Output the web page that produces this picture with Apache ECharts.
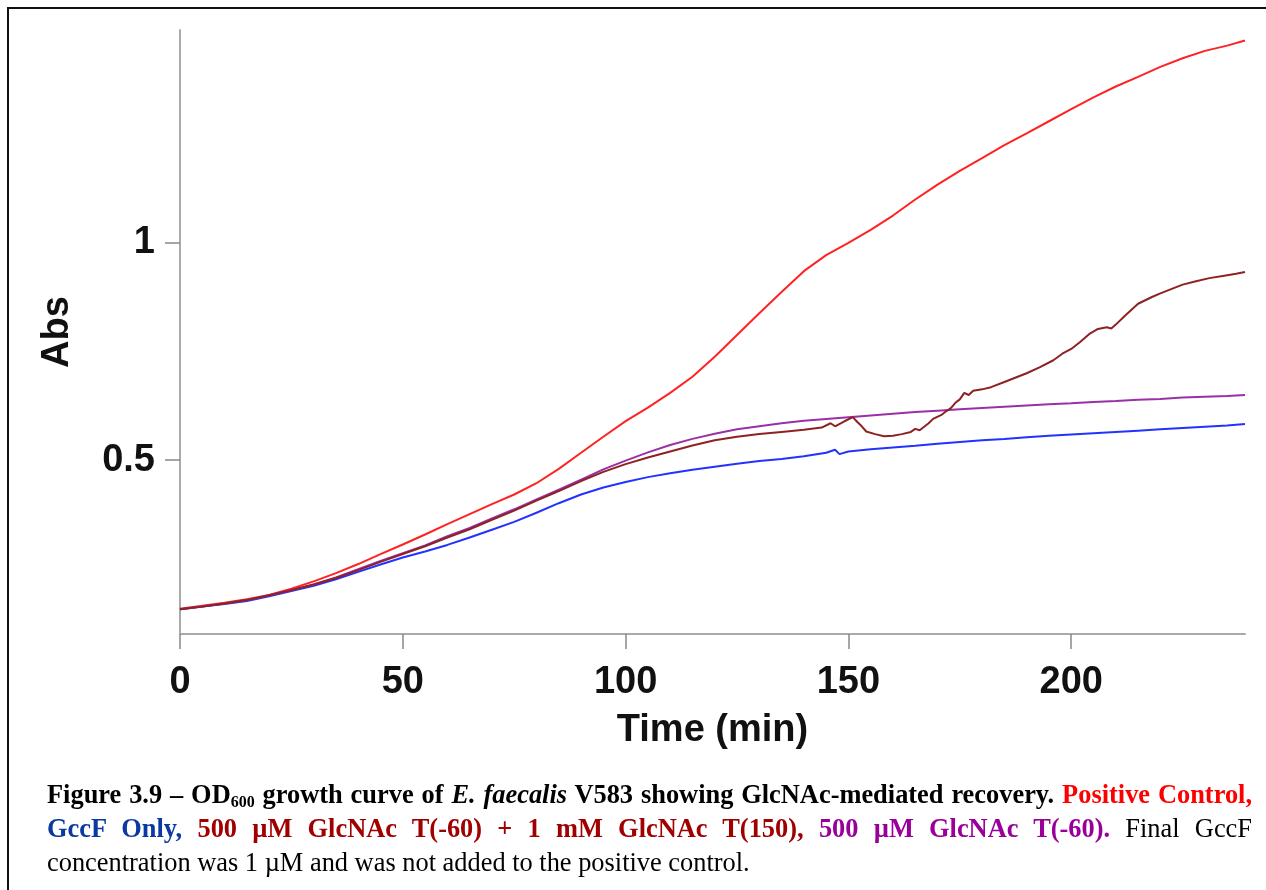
<!DOCTYPE html>
<html>
<head>
<meta charset="utf-8">
<title>E. faecalis V583 growth curve</title>
<script src="https://cdn.jsdelivr.net/npm/echarts@6/dist/echarts.min.js"></script>
<style>
  html, body { margin: 0; padding: 0; background: #fff; }
  #wrap { position: relative; width: 1266px; height: 890px; overflow: hidden; }
  #frame { position: absolute; left: 7px; top: 7px; width: 1400px; height: 1000px;
           border: 2px solid #111; box-sizing: border-box; pointer-events: none; }
  #chart { position: absolute; left: 0; top: 0; width: 1266px; height: 890px; }
  .cap { position: absolute; left: 47px; width: 1205px; font-family: "Liberation Serif", "Times New Roman", serif;
         font-size: 26.4px; line-height: 35px; color: #000; white-space: nowrap; }
  .just { text-align: justify; text-align-last: justify; white-space: normal; }
  .b { font-weight: bold; }
  .red { color: #ff0000; }
  .blue { color: #0a3aa0; }
  .brown { color: #a00000; }
  .purple { color: #990099; }
  sub { font-size: 16px; vertical-align: -4px; line-height: 0; }
</style>
</head>
<body>
<div id="wrap">
  <div id="chart"></div>
  <div id="frame"></div>
  <div class="cap just b" style="top:777px;">Figure 3.9 – OD<sub>600</sub> growth curve of <i>E. faecalis</i> V583 showing GlcNAc-mediated recovery. <span class="red">Positive Control,</span></div>
  <div class="cap just" style="top:811px;"><span class="b blue">GccF Only,</span> <span class="b brown">500 µM GlcNAc T(-60) + 1 mM GlcNAc T(150),</span> <span class="b purple">500 µM GlcNAc T(-60).</span> Final GccF</div>
  <div class="cap" style="top:845px;">concentration was 1 µM and was not added to the positive control.</div>
</div>
<script>
// Absorbance readings, [time (min), Abs]
const positiveControl = [
  [0,0.158],[5,0.165],[10,0.172],[15,0.180],[20,0.190],[25,0.204],[30,0.221],[35,0.240],
  [40,0.261],[45,0.284],[50,0.306],[55,0.329],[60,0.353],[65,0.376],[70,0.399],[75,0.421],
  [80,0.447],[85,0.480],[90,0.517],[95,0.554],[100,0.590],[105,0.621],[110,0.655],[115,0.692],
  [120,0.738],[125,0.788],[130,0.838],[135,0.887],[140,0.935],[145,0.972],[150,1.000],[155,1.030],
  [160,1.063],[165,1.100],[170,1.134],[175,1.166],[180,1.195],[185,1.225],[190,1.252],[195,1.280],
  [200,1.308],[205,1.335],[210,1.360],[215,1.382],[220,1.405],[225,1.425],[230,1.442],[235,1.454],
  [239,1.466]
];
const gccfOnly = [
  [0,0.157],[5,0.163],[10,0.169],[15,0.176],[20,0.187],[25,0.199],[30,0.211],[35,0.226],
  [40,0.243],[45,0.260],[50,0.276],[55,0.290],[60,0.305],[65,0.322],[70,0.340],[75,0.358],
  [80,0.379],[85,0.401],[90,0.421],[95,0.437],[100,0.450],[105,0.461],[110,0.470],[115,0.478],
  [120,0.485],[125,0.492],[130,0.498],[135,0.503],[140,0.509],[145,0.517],[147,0.524],[148,0.514],
  [150,0.520],[155,0.525],[160,0.529],[165,0.533],[170,0.538],[175,0.542],[180,0.546],[185,0.549],
  [190,0.553],[195,0.556],[200,0.559],[205,0.562],[210,0.565],[215,0.568],[220,0.571],[225,0.574],
  [230,0.577],[235,0.580],[239,0.583]
];
const glcnacTwoDoses = [
  [0,0.157],[5,0.163],[10,0.170],[15,0.178],[20,0.189],[25,0.201],[30,0.214],[35,0.229],
  [40,0.247],[45,0.266],[50,0.284],[55,0.302],[60,0.322],[65,0.341],[70,0.363],[75,0.384],
  [80,0.407],[85,0.429],[90,0.452],[95,0.473],[100,0.491],[105,0.506],[110,0.520],[115,0.534],
  [120,0.546],[125,0.554],[130,0.560],[135,0.565],[140,0.570],[144,0.575],[146,0.585],[147,0.578],
  [149,0.589],[151,0.599],[152,0.588],[153,0.578],[154,0.566],[156,0.560],[158,0.555],[160,0.556],
  [162,0.560],[164,0.565],[165,0.572],[166,0.569],[168,0.585],[169,0.595],[171,0.605],[172,0.613],
  [173,0.620],[174,0.632],[175,0.640],[176,0.655],[177,0.650],[178,0.660],[180,0.663],[182,0.668],
  [185,0.680],[188,0.692],[190,0.700],[193,0.714],[196,0.730],[198,0.745],[200,0.756],[202,0.772],
  [204,0.790],[206,0.802],[208,0.806],[209,0.803],[210,0.812],[212,0.832],[215,0.860],[218,0.875],
  [220,0.884],[222,0.892],[225,0.904],[228,0.912],[231,0.919],[234,0.924],[237,0.929],[239,0.933]
];
const glcnacSingleDose = [
  [0,0.157],[5,0.163],[10,0.170],[15,0.178],[20,0.189],[25,0.201],[30,0.214],[35,0.230],
  [40,0.249],[45,0.268],[50,0.286],[55,0.304],[60,0.325],[65,0.344],[70,0.366],[75,0.387],
  [80,0.410],[85,0.432],[90,0.455],[95,0.479],[100,0.499],[105,0.518],[110,0.535],[115,0.549],
  [120,0.561],[125,0.571],[130,0.578],[135,0.585],[140,0.591],[145,0.595],[150,0.599],[155,0.603],
  [160,0.607],[165,0.611],[170,0.614],[175,0.617],[180,0.620],[185,0.623],[190,0.626],[195,0.629],
  [200,0.631],[205,0.634],[210,0.636],[215,0.639],[220,0.641],[225,0.644],[230,0.646],[235,0.648],
  [239,0.650]
];

const timeTicks = [0, 50, 100, 150, 200];
const absTicks = [0.5, 1];

const axisFont = { fontFamily: 'Liberation Sans, Arial, sans-serif', fontWeight: 'bold', fontSize: 38, color: '#111' };

const chart = echarts.init(document.getElementById('chart'), null, { renderer: 'canvas' });

function line(name, data, color) {
  return {
    name, type: 'line', data, showSymbol: false, smooth: false,
    lineStyle: { color, width: 2 }, animation: false
  };
}

chart.setOption({
  backgroundColor: 'transparent',
  animation: false,
  grid: { left: 180, right: 21, top: 30, bottom: 256, containLabel: false },
  xAxis: {
    type: 'value', min: 0, max: 239,
    name: 'Time (min)', nameLocation: 'middle', nameGap: 78,
    nameTextStyle: axisFont,
    axisLine: { lineStyle: { color: '#aaa', width: 2 } },
    axisTick: { show: true, inside: false, length: 15, customValues: timeTicks, lineStyle: { color: '#888', width: 1.5 } },
    axisLabel: { customValues: timeTicks, margin: 30, ...axisFont },
    splitLine: { show: false }
  },
  yAxis: {
    type: 'value', min: 0.1, max: 1.49,
    name: 'Abs', nameLocation: 'middle', nameGap: 103, nameRotate: 90,
    nameTextStyle: axisFont,
    axisLine: { show: true, lineStyle: { color: '#aaa', width: 2 } },
    axisTick: { show: true, inside: false, length: 15, customValues: absTicks, lineStyle: { color: '#888', width: 1.5 } },
    axisLabel: { customValues: absTicks, margin: 25, formatter: v => String(v), ...axisFont },
    splitLine: { show: false }
  },
  series: [
    line('Positive Control', positiveControl, '#ff2222'),
    line('GccF Only', gccfOnly, '#2233ff'),
    line('500 µM GlcNAc T(-60)', glcnacSingleDose, '#9a30a8'),
    line('500 µM GlcNAc T(-60) + 1 mM GlcNAc T(150)', glcnacTwoDoses, '#8e2222')
  ]
});
</script>
</body>
</html>
